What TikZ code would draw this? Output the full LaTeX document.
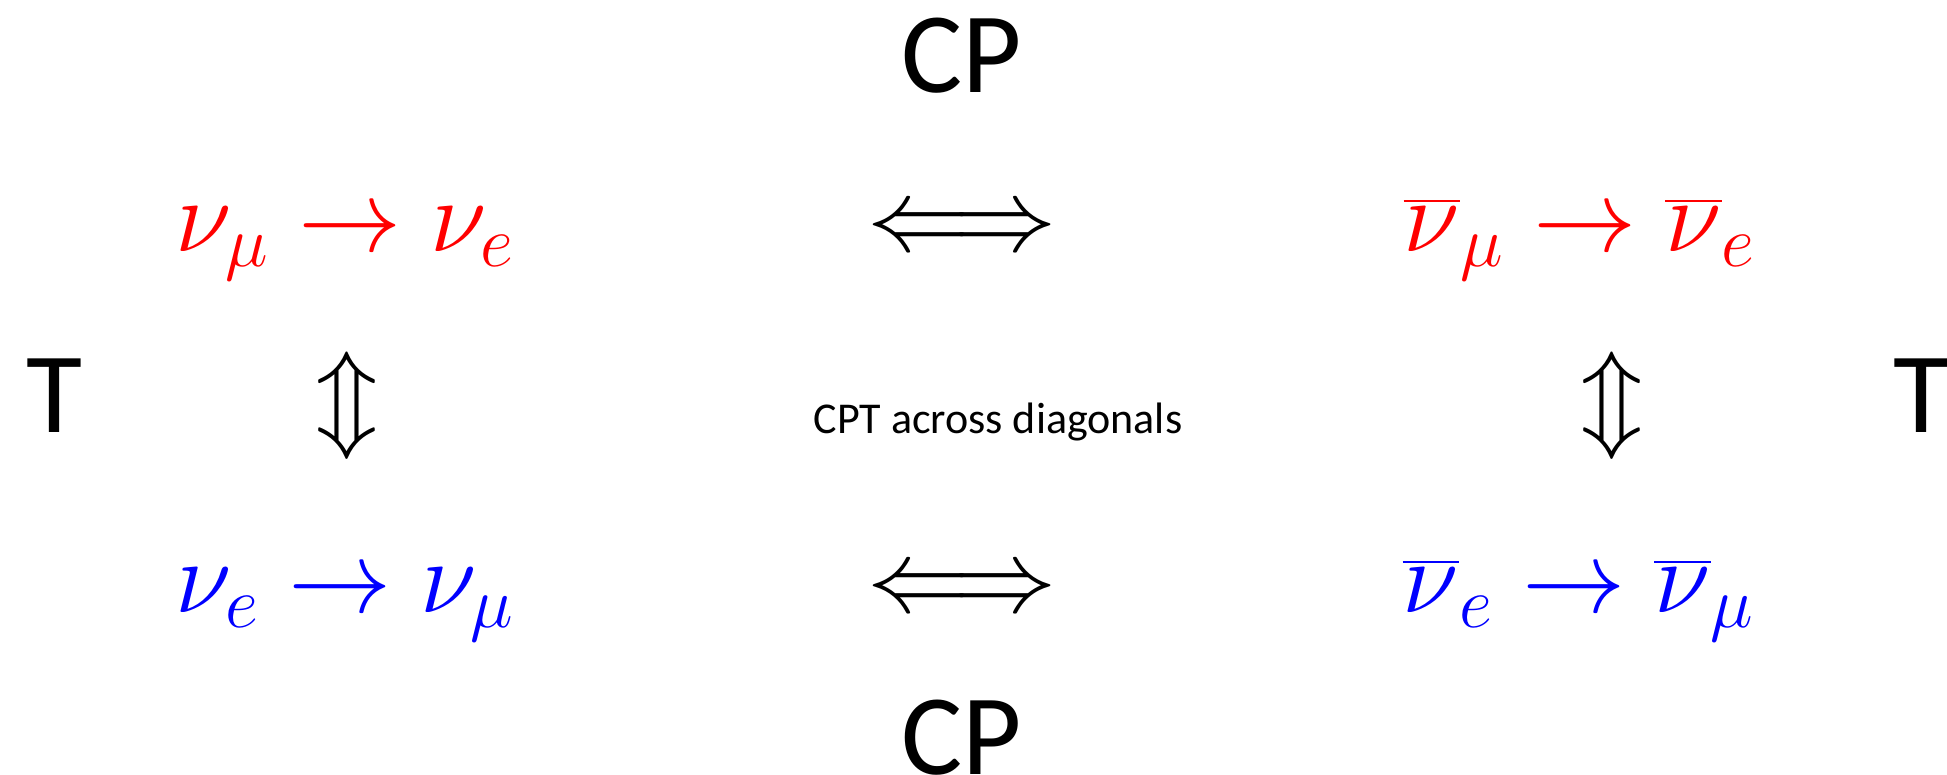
\RequirePackage{fix-cm}
\documentclass[tikz,border=0pt]{standalone}
\usepackage{fontspec}
\setmainfont{Carlito}
\begin{document}
\begin{tikzpicture}[x=0.25pt,y=-0.25pt,
  every node/.style={inner sep=0pt,outer sep=0pt,anchor=base},
  mathlbl/.style={font=\fontsize{25.8pt}{31pt}\selectfont},
  biglbl/.style={font=\fontsize{28.7pt}{34pt}\selectfont},
  smalllbl/.style={font=\fontsize{11pt}{14pt}\selectfont}]
\useasboundingbox (0,0) rectangle (1947,774);

% symmetry labels
\node[biglbl] (cptop) at (962,92) {CP};
\node[biglbl] (cpbot) at (962,774) {CP};
\node[biglbl] (tleft) at (54,432) {T};
\node[biglbl] (tright) at (1921,432) {T};
\node[smalllbl] (cpt) at (998,433) {CPT across diagonals};

% transitions
\node[mathlbl,text=red]  (numue)  at (345,251)  {$\nu_\mu \rightarrow \nu_e$};
\node[mathlbl,text=red]  (anumue) at (1580,251) {$\overline{\nu}_\mu \rightarrow \overline{\nu}_e$};
\node[mathlbl,text=blue] (nuemu)  at (345,612)  {$\nu_e \rightarrow \nu_\mu$};
\node[mathlbl,text=blue] (anuemu) at (1579,612) {$\overline{\nu}_e \rightarrow \overline{\nu}_\mu$};

% equivalence arrows
\node[mathlbl] (cparrtop) at (962,250) {$\Longleftrightarrow$};
\node[mathlbl] (cparrbot) at (962,611) {$\Longleftrightarrow$};
\node[mathlbl] (tarrleft) at (347,431) {$\Updownarrow$};
\node[mathlbl] (tarrright) at (1612,431) {$\Updownarrow$};
\end{tikzpicture}
\end{document}
